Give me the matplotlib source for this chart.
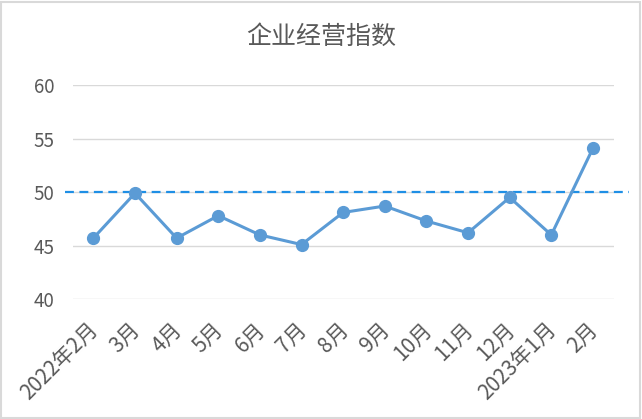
import matplotlib
matplotlib.use("Agg")
import matplotlib.pyplot as plt
import matplotlib.transforms as mtransforms
from matplotlib.patches import Rectangle

plt.rcParams['font.family'] = ['Noto Sans CJK SC', 'DejaVu Sans']

# data
months = ['2022年2月', '3月', '4月', '5月', '6月', '7月', '8月', '9月',
          '10月', '11月', '12月', '2023年1月', '2月']
index_values = [45.7, 49.9, 45.7, 47.8, 46.0, 45.1, 48.1, 48.7,
                47.3, 46.2, 49.5, 46.0, 54.1]
threshold = 50

fig = plt.figure(figsize=(6.42, 4.19), dpi=100)
ax = fig.add_axes([0.113, 0.286, 0.843, 0.511])

x = range(len(months))
ax.plot(x, index_values, color='#5B9BD5', lw=2.2, marker='o',
        markersize=8.5, zorder=3)

# dashed 50 line, drawn wider than the plot area like the original
ax.plot([-0.67, len(months) - 0.14], [threshold, threshold], ls=(0, (4, 2.5)),
        color='#1F8FE5', lw=1.6, clip_on=False, zorder=2)

ax.set_xlim(-0.5, len(months) - 0.5)
ax.set_ylim(40, 60)
ax.set_yticks([40, 45, 50, 55, 60])
ax.yaxis.grid(True, color='#D9D9D9', lw=1)
ax.set_axisbelow(True)
for s in ax.spines.values():
    s.set_visible(False)
ax.tick_params(axis='both', length=0, colors='#595959')
ax.tick_params(axis='y', pad=13, labelsize=13.5)
ax.tick_params(axis='x', pad=14, labelsize=15)
ax.set_xticks(list(x))
ax.set_xticklabels(months, rotation=45, ha='right', rotation_mode='anchor')

# nudge the rotated labels a little to the left
shift = mtransforms.ScaledTranslation(-0.06, 0, fig.dpi_scale_trans)
for lbl in ax.get_xticklabels():
    lbl.set_transform(lbl.get_transform() + shift)

fig.text(0.5, 0.913, '企业经营指数', ha='center', va='center',
         fontsize=18, color='#595959')

fig.patches.append(Rectangle((0.002, 0.003), 0.995, 0.993, transform=fig.transFigure,
                             fill=False, edgecolor='#D9D9D9', lw=1.5))

fig.savefig('out.png', dpi=100)
